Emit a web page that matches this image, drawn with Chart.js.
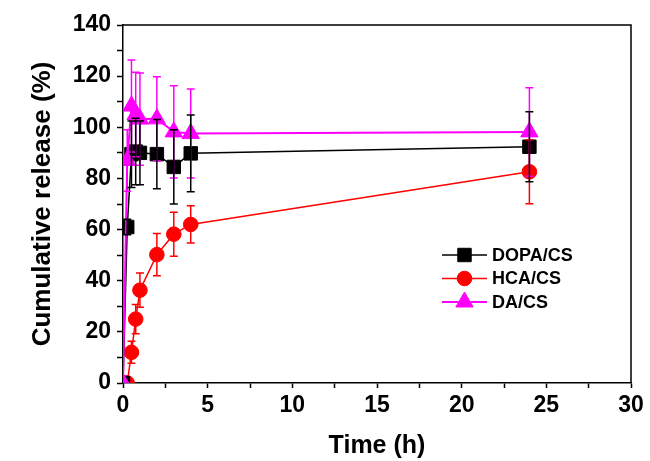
<!DOCTYPE html>
<html>
<head>
<meta charset="utf-8">
<title>Cumulative release</title>
<script src="https://cdn.jsdelivr.net/npm/chart.js@4.4.0/dist/chart.umd.min.js"></script>
<style>
  html, body { margin: 0; padding: 0; background: #fff; }
</style>
</head>
<body>
<canvas id="chart" width="650" height="461"></canvas>
<script>
// sampling times (h) shared by all three formulations
const times = [0, 0.25, 0.5, 0.75, 1, 2, 3, 4, 24];

const dopaRelease = [0, 61, 89.5, 90.5, 90, 89.5, 84.5, 89.8, 92.4];
const dopaError   = [0, 3, 13, 13, 12.5, 13.5, 14.5, 15, 13.7];

const hcaRelease  = [0, 0, 12, 25, 36.3, 50.2, 58.2, 62, 82.6];
const hcaError    = [0, 0, 4.3, 5.7, 6.7, 8.3, 8.6, 7.3, 12.5];

const daRelease   = [0, 87, 108.3, 105, 103.2, 103.3, 98.2, 97.6, 98.2];
const daError     = [0, 12, 18, 16.5, 18, 16.5, 18, 17.4, 17.3];

const seriesNames = ['DOPA/CS', 'HCA/CS', 'DA/CS'];
const xTickLabels = [0, 5, 10, 15, 20, 25, 30];
const yTickLabels = [0, 20, 40, 60, 80, 100, 120, 140];

const FONT = "'Liberation Sans', Arial, sans-serif";
Chart.defaults.font.family = FONT;
Chart.defaults.font.weight = 'bold';
Chart.defaults.color = '#000';

const toPoints = (vals) => vals.map((v, i) => ({ x: times[i], y: v }));

// vertical error bars with caps, drawn through the chart scales
const errorBars = {
  id: 'errorBars',
  afterDatasetsDraw(chart) {
    const { ctx, chartArea: a, scales: { x, y } } = chart;
    ctx.save();
    ctx.beginPath();
    ctx.rect(a.left, a.top, a.right - a.left, a.bottom - a.top);
    ctx.clip();
    [1, 2, 0].forEach(i => {
      const ds = chart.data.datasets[i];
      ctx.strokeStyle = ds.borderColor;
      ctx.lineWidth = 1.5;
      ds.data.forEach((p, j) => {
        const e = ds.errors[j];
        if (!e) return;
        const px = x.getPixelForValue(p.x);
        const top = y.getPixelForValue(p.y + e);
        const bot = y.getPixelForValue(p.y - e);
        ctx.beginPath();
        ctx.moveTo(px, top); ctx.lineTo(px, bot);
        ctx.moveTo(px - 4, top); ctx.lineTo(px + 4, top);
        ctx.moveTo(px - 4, bot); ctx.lineTo(px + 4, bot);
        ctx.stroke();
      });
    });
    ctx.restore();
  }
};

// closes the plot box on the top and right
const frame = {
  id: 'frame',
  afterDraw(chart) {
    const { ctx, chartArea: a } = chart;
    ctx.save();
    ctx.strokeStyle = '#000';
    ctx.lineWidth = 1.5;
    ctx.beginPath();
    ctx.moveTo(a.left, a.top);
    ctx.lineTo(a.right, a.top);
    ctx.lineTo(a.right, a.bottom);
    ctx.stroke();
    ctx.restore();
  }
};

// legend inside the plot: line segment + marker + name
const insideLegend = {
  id: 'insideLegend',
  afterDraw(chart) {
    const { ctx, chartArea: a } = chart;
    const x0 = a.left + 319, y0 = a.top + 230, rowH = 23.5;
    ctx.save();
    chart.data.datasets.forEach((ds, i) => {
      const y = y0 + i * rowH;
      ctx.strokeStyle = ds.borderColor;
      ctx.lineWidth = ds.borderWidth;
      ctx.beginPath();
      ctx.moveTo(x0, y);
      ctx.lineTo(x0 + 45, y);
      ctx.stroke();
      ctx.fillStyle = ds.pointBackgroundColor;
      ctx.strokeStyle = ds.pointBorderColor;
      ctx.lineWidth = 1;
      Chart.helpers.drawPoint(ctx, {
        pointStyle: ds.pointStyle, radius: ds.pointRadius, rotation: 0, borderWidth: 1
      }, x0 + 22.5, y);
      ctx.fillStyle = '#000';
      ctx.font = 'bold 18px ' + FONT;
      ctx.textBaseline = 'middle';
      ctx.textAlign = 'left';
      ctx.fillText(ds.label, x0 + 50, y + 1);
    });
    ctx.restore();
  }
};

function series(label, vals, errs, color, style, radius, width, order) {
  return {
    label,
    data: toPoints(vals),
    errors: errs,
    borderColor: color,
    borderWidth: width,
    pointBackgroundColor: color,
    pointBorderColor: color,
    pointBorderWidth: 1,
    pointStyle: style,
    pointRadius: radius,
    pointHoverRadius: radius,
    tension: 0,
    clip: 0,
    order
  };
}

new Chart(document.getElementById('chart'), {
  type: 'line',
  data: {
    datasets: [
      series(seriesNames[0], dopaRelease, dopaError, '#000000', 'rect', 9.5, 1.5, 1),
      series(seriesNames[1], hcaRelease, hcaError, '#ff0000', 'circle', 7.3, 1.5, 2),
      series(seriesNames[2], daRelease, daError, '#ff00ff', 'triangle', 10, 2, 0)
    ]
  },
  options: {
    responsive: false,
    animation: false,
    layout: { padding: { top: 25, right: 19, left: 0, bottom: 0 } },
    plugins: {
      legend: { display: false },
      tooltip: { enabled: false }
    },
    scales: {
      x: {
        type: 'linear',
        min: 0,
        max: 30,
        afterFit(scale) { scale.height = 78; },
        border: { display: true, color: '#000', width: 1.5 },
        grid: { drawOnChartArea: false, drawTicks: true, tickLength: 5, tickColor: '#000', tickWidth: 1.5 },
        ticks: {
          stepSize: 2.5,
          autoSkip: false,
          maxRotation: 0,
          padding: 4,
          font: { size: 23, weight: 'bold' },
          callback: (v) => xTickLabels.includes(v) ? String(v) : ''
        },
        title: {
          display: true,
          text: 'Time (h)',
          font: { size: 25, weight: 'bold' },
          padding: { top: 0, bottom: 0 }
        }
      },
      y: {
        min: 0,
        max: 140,
        afterFit(scale) { scale.width = 123; },
        border: { display: true, color: '#000', width: 1.5 },
        grid: { drawOnChartArea: false, drawTicks: true, tickLength: 6, tickColor: '#000', tickWidth: 1.5 },
        ticks: {
          stepSize: 10,
          autoSkip: false,
          padding: 6,
          font: { size: 23, weight: 'bold' },
          callback: (v) => yTickLabels.includes(v) ? String(v) : ''
        },
        title: {
          display: true,
          text: 'Cumulative release (%)',
          font: { size: 26, weight: 'bold' },
          padding: { top: 27, bottom: 0 }
        }
      }
    }
  },
  plugins: [errorBars, frame, insideLegend]
});
</script>
</body>
</html>
